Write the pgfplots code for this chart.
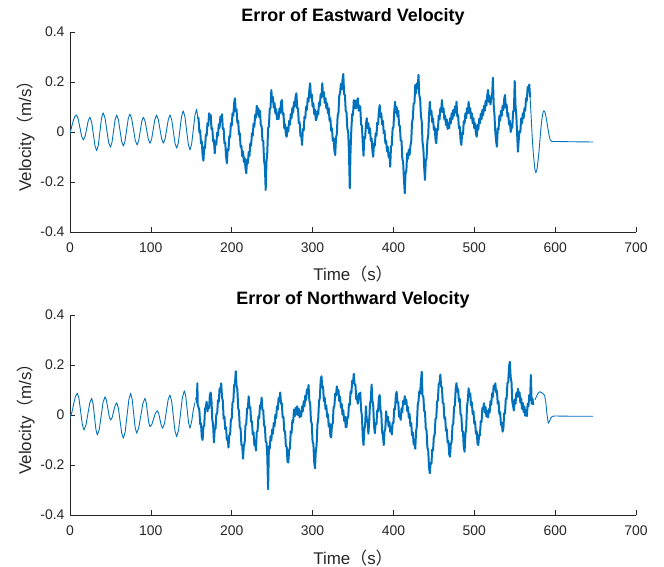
\documentclass[border=0pt]{standalone}
\usepackage{pgfplots}
\pgfplotsset{compat=1.18}
\usepackage{pgfplotstable}
\usepackage{fontspec}
\setmainfont{Liberation Sans}
\newfontfamily\cjk{Noto Sans CJK SC}
\definecolor{mblue}{RGB}{0,114,189}
\definecolor{mgray}{RGB}{38,38,38}

\pgfplotstableread{
t v
0 -0.005
2 0.02
4 0.045
6 0.062
8 0.068
10.1 0.053
12.25 0.018
14.4 -0.017
16.5 -0.032
18.55 -0.019
20.6 0.0135
22.65 0.046
24.7 0.059
26.8 0.039
28.85 -0.008
30.9 -0.055
33 -0.075
35 -0.053
37 0.001
39 0.055
41 0.077
43.25 0.057
45.5 0.008
47.75 -0.041
50 -0.061
51.9 -0.042
53.85 0.0035
55.8 0.049
57.7 0.068
59.8 0.050
61.85 0.006
63.9 -0.038
66 -0.056
68 -0.037
70 0.008
72 0.053
74 0.072
76.25 0.054
78.5 0.01
80.75 -0.034
83 -0.052
84.9 -0.036
86.85 0.0035
88.8 0.043
90.7 0.059
92.8 0.044
94.85 0.007
96.9 -0.030
99 -0.045
101 -0.028
103 0.0115
105 0.051
107 0.068
109.1 0.051
111.25 0.0115
113.4 -0.028
115.5 -0.045
117.55 -0.028
119.6 0.0115
121.65 0.051
123.7 0.068
125.8 0.049
127.85 0.0015
129.9 -0.046
132 -0.065
134 -0.043
136 0.01
138 0.063
140 0.085
142.1 0.062
144.2 0.0065
146.3 -0.049
148.4 -0.072
150.45 -0.048
152.5 0.0095
154.55 0.067
156.6 0.091
158 0.06
159 0.052
160 -0.002
161 0.007
162 -0.045
163 -0.038
164 -0.092
165 -0.115
166 -0.060
167 -0.065
168 -0.010
169 -0.015
170 0.035
171 0.025
172 0.075
173 0.065
174 0.068
175 0.012
176 0.015
177 -0.038
178 -0.032
179 -0.085
180 -0.038
181 -0.050
182 -0.002
183 -0.015
184 0.031
185 0.016
186 0.062
187 0.047
188 0.071
189 0.012
190 0.014
191 -0.045
192 -0.042
193 -0.098
194 -0.125
195 -0.069
196 -0.073
197 -0.017
198 -0.021
199 0.035
200 0.025
201 0.075
202 0.065
203 0.115
204 0.135
205 0.082
206 0.09
207 0.037
208 0.045
209 -0.01
210 -0.005
211 -0.06
212 -0.055
213 -0.097
214 -0.078
215 -0.12
216 -0.102
217 -0.143
218 -0.165
219 -0.11
220 -0.125
221 -0.08
222 -0.095
223 -0.045
224 -0.055
225 -0.005
226 -0.015
227 0.033
228 0.021
229 0.069
230 0.057
231 0.105
232 0.07
233 0.095
234 0.06
235 0.085
236 0.025
237 0.025
238 -0.035
239 -0.035
240 -0.115
241 -0.135
242 -0.232
243 -0.118
244 -0.082
245 0.015
246 0.022
247 0.09
248 0.097
249 0.168
250 0.122
251 0.14
252 0.097
253 0.115
254 0.074
255 0.092
256 0.051
257 0.075
258 0.051
259 0.094
260 0.076
261 0.119
262 0.128
263 0.07
264 0.076
265 0.015
266 0.032
267 -0.012
268 -0.019
269 0.018
270 0.002
271 0.045
272 0.028
273 0.072
274 0.055
275 0.097
276 0.078
277 0.12
278 0.102
279 0.143
280 0.155
281 0.095
282 0.095
283 0.035
284 0.039
285 -0.016
286 -0.012
287 -0.052
288 0.012
289 0.006
290 0.061
291 0.055
292 0.102
293 0.088
294 0.135
295 0.122
296 0.168
297 0.195
298 0.137
299 0.15
300 0.102
301 0.115
302 0.072
303 0.09
304 0.047
305 0.055
306 0.083
307 0.07
308 0.118
309 0.105
310 0.152
311 0.138
312 0.195
313 0.142
314 0.16
315 0.117
316 0.135
317 0.095
318 0.115
319 0.075
320 0.095
321 0.045
322 0.055
323 0.005
324 0.015
325 -0.035
326 -0.025
327 -0.075
328 -0.092
329 -0.022
330 -0.008
331 0.065
332 0.075
333 0.145
334 0.155
335 0.193
336 0.17
337 0.208
338 0.232
339 0.152
340 0.148
341 0.085
342 0.078
343 0.012
344 0.005
345 -0.08
346 -0.225
347 -0.07
348 0.015
349 0.072
350 0.068
351 0.128
352 0.095
353 0.125
354 0.095
355 0.125
356 0.135
357 0.085
358 0.105
359 0.10
360 0.03
361 0.025
362 -0.04
363 -0.095
364 -0.02
365 -0.025
366 0.03
367 0.055
368 0.015
369 0.035
370 -0.005
371 0.015
372 -0.035
373 -0.025
374 -0.075
375 -0.099
376 -0.045
377 -0.055
378 -0.005
379 -0.015
380 0.038
381 0.03
382 0.083
383 0.108
384 0.06
385 0.075
386 0.03
387 0.045
388 -0.005
389 0.005
390 -0.045
391 -0.035
392 -0.077
393 -0.059
394 -0.101
395 -0.083
396 -0.139
397 -0.058
398 -0.052
399 0.015
400 0.018
401 0.082
402 0.121
403 0.077
404 0.1
405 0.062
406 0.085
407 0.025
408 0.025
409 -0.035
410 -0.035
411 -0.107
412 -0.12
413 -0.19
414 -0.245
415 -0.165
416 -0.155
417 -0.085
418 -0.107
419 -0.07
420 -0.092
421 -0.055
422 -0.038
423 0.038
424 0.055
425 0.115
426 0.115
427 0.188
428 0.155
429 0.195
430 0.175
431 0.228
432 0.145
433 0.135
434 0.065
435 0.042
436 -0.042
437 -0.065
438 -0.14
439 -0.192
440 -0.115
441 -0.105
442 -0.035
443 -0.015
444 0.065
445 0.121
446 0.07
447 0.085
448 0.04
449 0.055
450 0.008
451 0.02
452 -0.028
453 -0.045
454 0.012
455 0.008
456 0.065
457 0.05
458 0.095
459 0.08
460 0.128
461 0.08
462 0.095
463 0.05
464 0.065
465 0.028
466 0.05
467 0.012
468 0.035
469 0.015
470 0.055
471 0.035
472 0.075
473 0.052
474 0.088
475 0.065
476 0.102
477 0.078
478 0.121
479 0.062
480 0.068
481 0.015
482 0.022
483 -0.032
484 -0.052
485 -0.003
486 -0.01
487 0.043
488 0.035
489 0.075
490 0.055
491 0.095
492 0.075
493 0.121
494 0.075
495 0.095
496 0.055
497 0.075
498 0.035
499 0.055
500 0.015
501 0.035
502 -0.005
503 -0.019
504 0.028
505 0.01
506 0.053
507 0.035
508 0.073
509 0.051
510 0.089
511 0.067
512 0.105
513 0.085
514 0.125
515 0.105
516 0.145
517 0.168
518 0.12
519 0.145
520 0.11
521 0.135
522 0.14
523 0.217
524 0.11
525 0.065
526 -0.001
527 -0.037
528 -0.059
529 0.014
530 0.009
531 0.065
532 0.045
533 0.085
534 0.065
535 0.105
536 0.088
537 0.132
538 0.148
539 0.097
540 0.11
541 0.062
542 0.075
543 0.03
544 0.045
545 0.0
546 0.015
547 0.018
548 0.082
549 0.085
550 0.204
551 0.105
552 0.065
553 -0.009
554 -0.079
555 -0.03
556 0.005
557 0.0
558 0.055
559 0.035
560 0.075
561 0.055
562 0.095
563 0.085
564 0.135
565 0.125
566 0.18
567 0.165
568 0.19
569 0.14
570 0.08
571 0.02
572 -0.04
573 -0.085
574 -0.12
575 -0.15
576 -0.162
577 -0.158
578 -0.14
579 -0.11
580 -0.08
581 -0.04
582 0.0
583 0.035
584 0.06
585 0.078
586 0.085
587 0.082
588 0.072
589 0.055
590 0.035
591 0.015
592 -0.003
593 -0.022
594 -0.032
595 -0.036
596 -0.038
600 -0.038
620 -0.039
647 -0.040
}\eastdata

\pgfplotstableread{
t v
0 -0.01
2.3 0.01
4.6 0.045
6.8 0.075
9.1 0.087
11.15 0.0655
13.2 0.0135
15.25 -0.038
17.3 -0.06
19.7 -0.041
22.05 0.0035
24.4 0.048
26.8 0.067
28.55 0.045
30.3 -0.0065
32.05 -0.058
33.8 -0.08
36.2 -0.058
38.55 -0.0035
40.9 0.051
43.3 0.073
45.05 0.059
46.8 0.0265
48.55 -0.006
50.3 -0.02
52.15 -0.010
54 0.0145
55.85 0.039
57.7 0.049
59.8 0.028
61.85 -0.022
63.9 -0.072
66 -0.093
68.25 -0.067
70.5 -0.003
72.75 0.061
75 0.087
76.85 0.064
78.7 0.007
80.55 -0.050
82.4 -0.073
85 -0.052
87.55 -0.003
90.1 0.046
92.7 0.067
94.25 0.050
95.8 0.01
97.35 -0.030
98.9 -0.047
101.2 -0.038
103.45 -0.015
105.7 0.008
108 0.017
109.65 0.007
111.3 -0.018
112.95 -0.043
114.6 -0.053
116.85 -0.034
119.1 0.0135
121.35 0.061
123.6 0.08
125.7 0.056
127.75 -0.0035
129.8 -0.063
131.9 -0.087
134.3 -0.060
136.65 0.005
139 0.070
141.4 0.097
143.15 0.075
144.9 0.022
146.65 -0.031
148.4 -0.053
150.5 -0.025
152.5 0.02
154.5 0.05
156 0.07
157 0.05
157.5 0.127
158 0.04
159 0.03
160 0.019
161 -0.037
162 -0.033
163 -0.089
164 -0.10
165 -0.048
166 -0.041
167 0.025
168 0.032
169 0.053
170 0.014
171 0.035
172 0.027
173 0.08
174 0.09
175 0.055
176 -0.021
177 -0.038
178 -0.11
179 -0.055
180 -0.055
181 0.005
182 0.005
183 0.059
184 0.053
185 0.106
186 0.10
187 0.127
188 0.07
189 0.057
190 -0.015
191 -0.006
192 -0.057
193 -0.049
194 -0.10
195 -0.091
196 -0.13
197 -0.08
198 -0.079
199 -0.017
200 -0.015
201 0.05
202 0.054
203 0.119
204 0.123
205 0.175
206 0.115
207 0.102
208 0.028
209 0.015
210 -0.05
211 -0.054
212 -0.119
213 -0.123
214 -0.175
215 -0.12
216 -0.112
217 -0.043
218 -0.035
219 0.026
220 0.027
221 0.075
222 0.03
223 0.031
224 -0.027
225 -0.025
226 -0.077
227 -0.069
228 -0.122
229 -0.114
230 -0.142
231 -0.065
232 -0.065
233 -0.005
234 -0.013
235 0.039
236 0.03
237 0.07
238 0.02
239 0.019
240 -0.043
241 -0.045
242 -0.105
243 -0.11
244 -0.165
245 -0.297
246 -0.125
247 -0.135
248 -0.085
249 -0.102
250 -0.058
251 -0.075
252 -0.032
253 -0.045
254 0.0015
255 -0.012
256 0.035
257 0.022
258 0.069
259 0.055
260 0.09
261 0.045
262 0.047
263 -0.01
264 -0.008
265 -0.065
266 -0.065
267 -0.126
268 -0.126
269 -0.187
270 -0.19
271 -0.14
272 -0.133
273 -0.065
274 -0.073
275 -0.0215
276 -0.03
277 0.022
278 -0.005
279 0.0285
280 0.002
281 0.035
282 0.0
283 0.025
284 -0.01
285 0.015
286 -0.005
287 0.035
288 0.015
289 0.055
290 0.035
291 0.078
292 0.06
293 0.103
294 0.085
295 0.12
296 0.057
297 0.047
298 -0.024
299 -0.035
300 -0.106
301 -0.116
302 -0.187
303 -0.213
304 -0.145
305 -0.12
306 -0.038
307 -0.015
308 0.056
309 0.068
310 0.139
311 0.155
312 0.11
313 0.113
314 0.055
315 0.069
316 0.0235
317 0.038
318 -0.008
319 0.003
320 -0.046
321 -0.034
322 -0.083
323 -0.09
324 -0.038
325 -0.0335
326 0.031
327 0.035
328 0.086
329 0.077
330 0.115
331 0.084
332 0.10
333 0.056
334 0.073
335 0.029
336 0.045
337 0.002
338 0.0195
339 -0.0235
340 -0.006
341 -0.049
342 -0.047
343 -0.007
344 -0.011
345 0.044
346 0.04
347 0.095
348 0.086
349 0.137
350 0.128
351 0.165
352 0.12
353 0.122
354 0.0635
355 0.065
356 0.045
357 0.085
358 0.065
359 0.09
360 0.02
361 -0.002
362 -0.084
363 -0.12
364 -0.058
365 -0.042
366 0.035
367 -0.022
368 -0.018
369 -0.075
370 -0.03
371 0.045
372 0.06
373 0.122
374 0.057
375 0.0385
376 -0.04
377 -0.073
378 -0.0325
379 -0.037
380 0.0185
381 0.014
382 0.0695
383 0.08
384 0.021
385 0.006
386 -0.068
387 -0.083
388 -0.12
389 -0.065
390 -0.055
391 0.015
392 -0.025
393 -0.006
394 -0.046
395 -0.027
396 -0.067
397 -0.0475
398 -0.078
399 -0.03
400 -0.033
401 0.025
402 0.023
403 0.08
404 0.093
405 0.05
406 0.0515
407 -0.007
408 -0.005
409 -0.0195
410 0.026
411 0.0115
412 0.057
413 0.0425
414 0.075
415 0.044
416 0.0605
417 0.0165
418 0.0325
419 -0.011
420 0.005
421 -0.044
422 -0.032
423 -0.081
424 -0.07
425 -0.118
426 -0.107
427 -0.135
428 -0.066
429 -0.044
430 0.038
431 0.055
432 0.095
433 0.085
434 0.135
435 0.173
436 0.075
437 0.075
438 0.015
439 0.015
440 -0.054
441 -0.063
442 -0.1315
443 -0.14
444 -0.209
445 -0.233
446 -0.191
447 -0.195
448 -0.138
449 -0.142
450 -0.085
451 -0.08
452 -0.016
453 -0.011
454 0.054
455 0.058
456 0.123
457 0.128
458 0.162
459 0.113
460 0.111
461 0.049
462 0.047
463 -0.015
464 -0.009
465 -0.063
466 -0.057
467 -0.1105
468 -0.104
469 -0.158
470 -0.167
471 -0.115
472 -0.1085
473 -0.042
474 -0.035
475 0.0317
476 0.0385
477 0.105
478 0.127
479 0.093
480 0.1035
481 0.054
482 0.065
483 0.002
484 -0.0007
485 -0.0635
486 -0.066
487 -0.129
488 -0.147
489 -0.077
490 -0.052
491 0.0336
492 0.059
493 0.107
494 0.074
495 0.0863
496 0.0385
497 0.0507
498 0.003
499 0.015
500 -0.035
501 -0.025
502 -0.075
503 -0.065
504 -0.115
505 -0.12
506 -0.078
507 -0.082
508 -0.025
509 -0.028
510 0.028
511 0.025
512 0.047
513 0.0093
514 0.0315
515 -0.0063
516 0.016
517 -0.01
518 0.0238
519 0.0095
520 0.055
521 0.041
522 0.087
523 0.0725
524 0.118
525 0.104
526 0.127
527 0.09
528 0.097
529 0.045
530 0.054
531 0.003
532 0.0115
533 -0.04
534 -0.031
535 -0.067
536 -0.053
537 0.0068
538 0.006
539 0.0656
540 0.065
541 0.128
542 0.1315
543 0.195
544 0.213
545 0.15
546 0.1315
547 0.0535
548 0.035
549 0.018
550 0.062
551 0.045
552 0.088
553 0.072
554 0.105
555 0.073
556 0.091
557 0.049
558 0.067
559 0.025
560 0.048
561 0.011
562 0.034
563 -0.003
564 0.02
565 -0.005
566 0.045
567 0.035
568 0.08
569 0.06
570 0.16
571 0.045
572 0.065
573 0.04
575 0.06
577 0.075
579 0.088
581 0.093
583 0.09
585 0.085
587 0.078
588.5 0.05
590 0.0
591.5 -0.033
593 -0.025
595 -0.01
597 -0.005
600 -0.004
620 -0.005
647 -0.005
}\northdata

\pgfplotsset{
  mstyle/.style={
    scale only axis, width=566bp, height=200bp,
    xmin=0, xmax=700, ymin=-0.4, ymax=0.4,
    axis x line*=bottom, axis y line*=left,
    axis line style={mgray, line width=0.5pt},
    xtick={0,100,200,300,400,500,600,700},
    xticklabels={0,100,200,300,400,500,600,700},
    ytick={-0.4,-0.2,0,0.2,0.4},
    yticklabels={-0.4,-0.2,0,0.2,0.4},
    tick align=inside, major tick length=5bp,
    tick style={mgray, line width=0.5pt},
    ticklabel style={font=\fontsize{14}{16}\selectfont, text=mgray},
    xticklabel style={yshift=-7bp},
    yticklabel style={xshift=-2bp},
    xlabel={Time{\cjk （}s{\cjk ）}},
    ylabel={Velocity{\cjk （}m/s{\cjk ）}},
    label style={font=\fontsize{17}{20}\selectfont, text=mgray},
    xlabel style={at={(axis description cs:0.5,0)}, anchor=base, yshift=-49bp},
    ylabel style={at={(axis description cs:0,0.5)}, anchor=base, yshift=39bp},
    title style={font=\fontsize{18}{20}\selectfont\bfseries, text=black, at={(axis description cs:0.5,1)}, anchor=base, yshift=5bp},
    clip=true,
  },
  sig/.style={mblue, line join=round, line width=0.9pt},
  noisy/.style={mblue, line join=round, line width=2pt},
}

\begin{document}
\begin{tikzpicture}
\useasboundingbox (0,0) rectangle (664bp,567bp);
\begin{axis}[mstyle, at={(70bp,335bp)}, anchor=south west,
  title={Error of Eastward Velocity}]
\addplot[sig, restrict x to domain=0:158] table[x=t,y=v] {\eastdata};
\addplot[noisy, restrict x to domain=158:569] table[x=t,y=v] {\eastdata};
\addplot[sig, restrict x to domain=569:700] table[x=t,y=v] {\eastdata};
\end{axis}
\begin{axis}[mstyle, at={(70bp,52bp)}, anchor=south west,
  title={Error of Northward Velocity}]
\addplot[sig, restrict x to domain=0:155] table[x=t,y=v] {\northdata};
\addplot[noisy, restrict x to domain=155:574] table[x=t,y=v] {\northdata};
\addplot[sig, restrict x to domain=574:700] table[x=t,y=v] {\northdata};
\end{axis}
\end{tikzpicture}
\end{document}
